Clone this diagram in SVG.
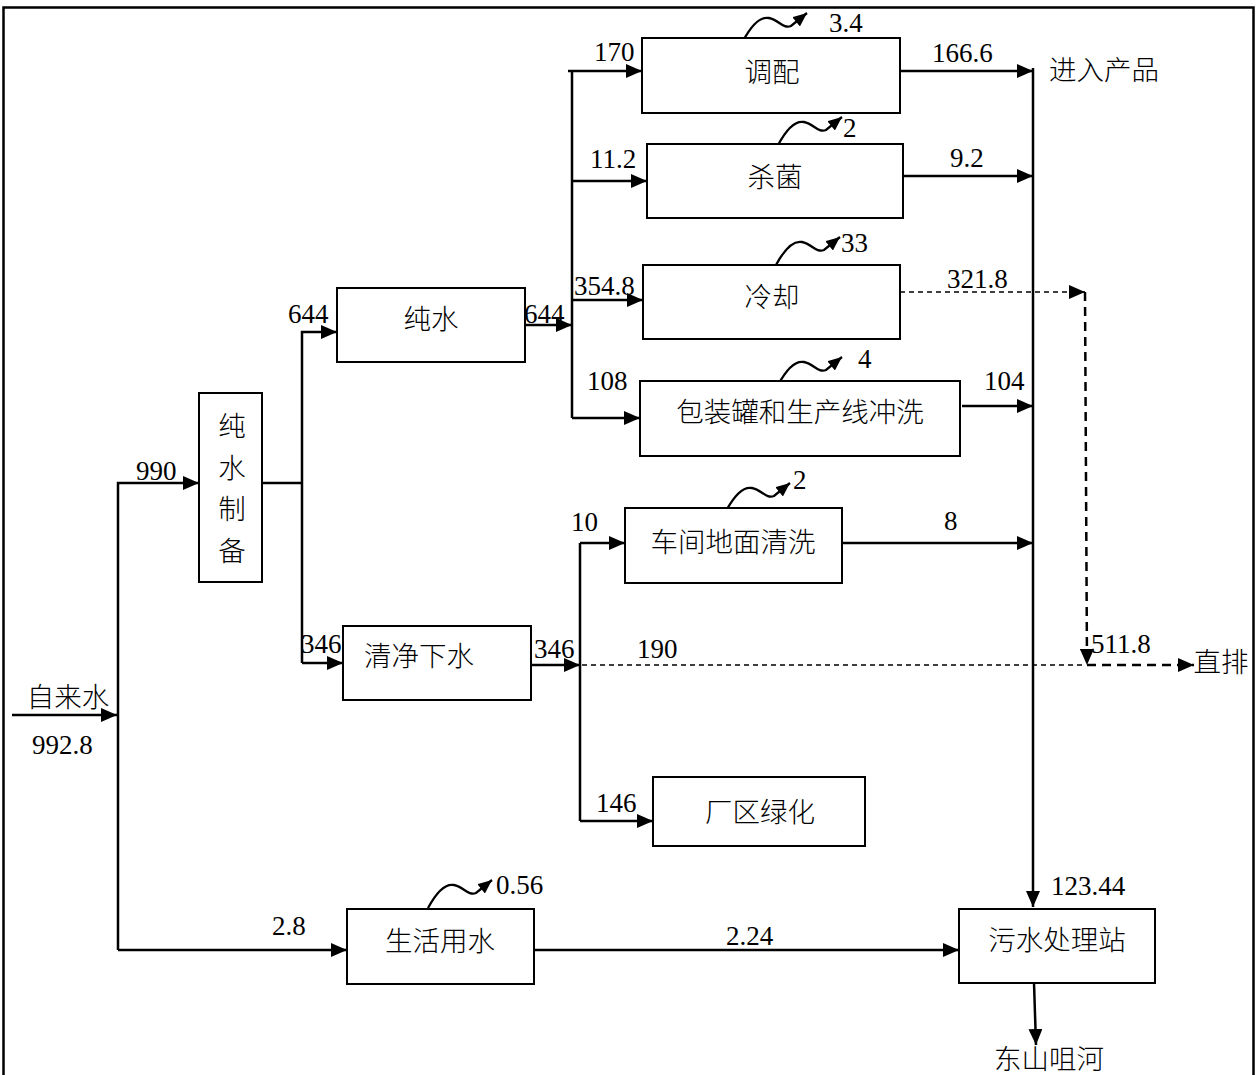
<svg xmlns="http://www.w3.org/2000/svg" width="1258" height="1075" viewBox="0 0 1258 1075">
<style>
.box{fill:#fff;stroke:#000;stroke-width:2}
.ln{fill:none;stroke:#000;stroke-width:2.5}
.dt{fill:none;stroke:#000;stroke-width:1.3;stroke-dasharray:5 4}
.dk{fill:none;stroke:#000;stroke-width:2.5;stroke-dasharray:9 6}
.sq{fill:none;stroke:#000;stroke-width:2.3}
.num{font-family:"Liberation Serif","Times New Roman",serif;font-size:27px;fill:#000}
.cjk{font-family:"Liberation Serif","Noto Sans CJK SC",serif;font-size:27.5px;font-weight:300;fill:#000;text-anchor:middle}
</style>
<defs>
<marker id="ah" markerUnits="userSpaceOnUse" markerWidth="16" markerHeight="14" viewBox="0 0 16 14" refX="16" refY="7" orient="auto">
<path d="M0,0 L16,7 L0,14 z" fill="#000"/>
</marker>
<marker id="as" markerUnits="userSpaceOnUse" markerWidth="14" markerHeight="12" viewBox="0 0 14 12" refX="14" refY="6" orient="auto">
<path d="M0,0 L14,6 L0,12 z" fill="#000"/>
</marker>
<path id="squig" class="sq" d="M0,0 C7,-13 16,-25 26,-23 C36,-21 40,-12 48,-15 L64,-28" marker-end="url(#as)"/>
</defs>
<rect x="0" y="0" width="1258" height="1075" fill="#fff"/>
<rect x="3.5" y="7.5" width="1250" height="1080" fill="none" stroke="#000" stroke-width="2.5"/>

<g id="connectors">
<path class="ln" d="M12,715 L117,715" marker-end="url(#ah)"/>
<path class="ln" d="M118,950 L118,483 L199,483" marker-end="url(#ah)"/>
<path class="ln" d="M118,950 L347,950" marker-end="url(#ah)"/>
<path class="ln" d="M262,483 L302,483"/>
<path class="ln" d="M302,663 L302,332 L337,332" marker-end="url(#ah)"/>
<path class="ln" d="M302,663 L343,663" marker-end="url(#ah)"/>
<path class="ln" d="M525,325 L572,325" marker-end="url(#ah)"/>
<path class="ln" d="M572,71 L572,418"/>
<path class="ln" d="M568,71 L642,71" marker-end="url(#ah)"/>
<path class="ln" d="M572,181 L647,181" marker-end="url(#ah)"/>
<path class="ln" d="M572,300 L643,300" marker-end="url(#ah)"/>
<path class="ln" d="M572,418 L640,418" marker-end="url(#ah)"/>
<path class="ln" d="M901,71 L1033,71" marker-end="url(#ah)"/>
<path class="ln" d="M903,176 L1033,176" marker-end="url(#ah)"/>
<path class="ln" d="M962,406 L1033,406" marker-end="url(#ah)"/>
<path class="ln" d="M842,543 L1033,543" marker-end="url(#ah)"/>
<path class="ln" d="M1033,68 L1033,907" marker-end="url(#ah)"/>
<path class="dt" d="M900,292 L1085,292" marker-end="url(#ah)"/>
<path class="dk" d="M1085,292 L1087,665" marker-end="url(#ah)"/>
<path class="dk" d="M1087,665 L1194,665" marker-end="url(#ah)"/>
<path class="ln" d="M531,665 L580,665" marker-end="url(#ah)"/>
<path class="ln" d="M580,543 L580,821"/>
<path class="ln" d="M580,543 L625,543" marker-end="url(#ah)"/>
<path class="ln" d="M580,821 L653,821" marker-end="url(#ah)"/>
<path class="dt" d="M582,665 L1085,665"/>
<path class="ln" d="M534,950 L959,950" marker-end="url(#ah)"/>
<path class="ln" d="M1034,983 L1036,1045" marker-end="url(#ah)"/>
<use href="#squig" x="743" y="41"/>
<use href="#squig" x="778" y="145"/>
<use href="#squig" x="776" y="265"/>
<use href="#squig" x="778" y="385"/>
<use href="#squig" x="726" y="511"/>
<use href="#squig" x="428" y="908"/>
</g>

<g id="n-chunshui-zhibei"><rect class="box" x="199" y="393" width="63" height="189"/>
<text class="cjk" x="232" y="436">纯</text><text class="cjk" x="232" y="478">水</text><text class="cjk" x="232" y="519">制</text><text class="cjk" x="232" y="561">备</text></g>
<g id="n-chunshui"><rect class="box" x="337" y="288" width="188" height="74"/><text class="cjk" x="431" y="329">纯水</text></g>
<g id="n-qingjing"><rect class="box" x="343" y="626" width="188" height="74"/><text class="cjk" x="419" y="666">清净下水</text></g>
<g id="n-tiaopei"><rect class="box" x="642" y="38" width="258" height="75"/><text class="cjk" x="772" y="82">调配</text></g>
<g id="n-shajun"><rect class="box" x="647" y="144" width="256" height="74"/><text class="cjk" x="775" y="187">杀菌</text></g>
<g id="n-lengque"><rect class="box" x="643" y="265" width="257" height="74"/><text class="cjk" x="772" y="307">冷却</text></g>
<g id="n-baozhuang"><rect class="box" x="640" y="381" width="320" height="75"/><text class="cjk" x="800" y="422">包装罐和生产线冲洗</text></g>
<g id="n-chejian"><rect class="box" x="625" y="508" width="217" height="75"/><text class="cjk" x="733" y="552">车间地面清洗</text></g>
<g id="n-lvhua"><rect class="box" x="653" y="777" width="212" height="69"/><text class="cjk" x="760" y="822">厂区绿化</text></g>
<g id="n-shenghuo"><rect class="box" x="347" y="909" width="187" height="75"/><text class="cjk" x="440" y="951">生活用水</text></g>
<g id="n-wushui"><rect class="box" x="959" y="909" width="196" height="74"/><text class="cjk" x="1057" y="950">污水处理站</text></g>

<g id="labels">
<text class="cjk" x="68" y="707">自来水</text>
<text class="cjk" x="1104" y="80">进入产品</text>
<text class="cjk" x="1221" y="672">直排</text>
<text class="cjk" x="1049" y="1069">东山咀河</text>
<text class="num" x="32" y="754">992.8</text>
<text class="num" x="136" y="480">990</text>
<text class="num" x="272" y="935">2.8</text>
<text class="num" x="288" y="323">644</text>
<text class="num" x="524" y="323">644</text>
<text class="num" x="301" y="653">346</text>
<text class="num" x="534" y="658">346</text>
<text class="num" x="594" y="61">170</text>
<text class="num" x="590" y="168">11.2</text>
<text class="num" x="574" y="295">354.8</text>
<text class="num" x="587" y="390">108</text>
<text class="num" x="829" y="32">3.4</text>
<text class="num" x="843" y="137">2</text>
<text class="num" x="841" y="252">33</text>
<text class="num" x="858" y="368">4</text>
<text class="num" x="793" y="489">2</text>
<text class="num" x="496" y="894">0.56</text>
<text class="num" x="932" y="62">166.6</text>
<text class="num" x="950" y="167">9.2</text>
<text class="num" x="947" y="288">321.8</text>
<text class="num" x="984" y="390">104</text>
<text class="num" x="944" y="530">8</text>
<text class="num" x="1091" y="653">511.8</text>
<text class="num" x="571" y="531">10</text>
<text class="num" x="637" y="658">190</text>
<text class="num" x="596" y="812">146</text>
<text class="num" x="726" y="945">2.24</text>
<text class="num" x="1051" y="895">123.44</text>
</g>
</svg>
